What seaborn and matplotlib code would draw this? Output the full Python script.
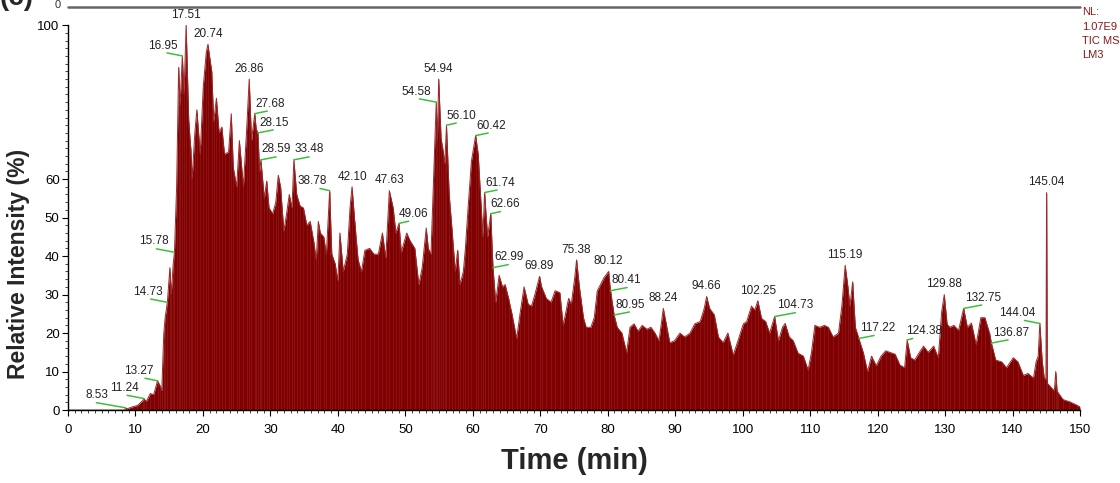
import numpy as np
import seaborn as sns
import matplotlib.pyplot as plt
from matplotlib.lines import Line2D
from matplotlib.ticker import MultipleLocator, FixedLocator

# 色谱数据 (TIC, 相对强度 %)
time = [
    0, 8.4, 8.53, 8.7, 9.5, 10.3, 11.1, 11.24, 11.6, 12.2,
    12.7, 13.27, 13.6, 13.9, 14.2, 14.4, 14.73, 15.1, 15.3, 15.6,
    15.78, 16.1, 16.4, 16.6, 16.95, 17.2, 17.51, 17.9, 18.2, 18.4,
    18.8, 19.1, 19.6, 20.05, 20.5, 20.74, 21.3, 21.6, 22.0, 22.4,
    22.8, 23.2, 23.8, 24.2, 24.5, 25.0, 25.4, 26.0, 26.5, 26.86,
    27.2, 27.68, 27.9, 28.15, 28.4, 28.59, 29.1, 29.45, 29.8, 30.34,
    30.8, 31.17, 31.5, 32.0, 32.4, 32.8, 33.2, 33.48, 33.9, 34.4,
    34.9, 35.4, 35.9, 36.4, 36.8, 37.1, 37.4, 37.9, 38.3, 38.78,
    39.1, 39.6, 40.0, 40.3, 40.8, 41.4, 41.8, 42.10, 42.5, 43.0,
    43.5, 44.0, 44.7, 45.35, 46.0, 46.6, 47.1, 47.63, 48.2, 48.6,
    49.06, 49.4, 50.2, 50.7, 51.4, 52.0, 52.5, 53.1, 53.4, 53.8,
    54.1, 54.3, 54.58, 54.75, 54.94, 55.3, 55.6, 55.85, 56.10, 56.5,
    56.9, 57.4, 57.75, 58.1, 58.6, 58.9, 59.3, 59.8, 60.42, 60.8,
    61.2, 61.5, 61.74, 62.2, 62.66, 62.99, 63.4, 63.9, 64.4, 64.8,
    65.3, 65.8, 66.5, 67.0, 67.6, 68.2, 68.7, 69.2, 69.89, 70.2,
    70.9, 71.6, 72.2, 72.9, 73.4, 74.2, 74.6, 75.1, 75.38, 75.8,
    76.4, 76.8, 77.5, 78.0, 78.45, 78.9, 79.45, 80.12, 80.41, 80.95,
    81.4, 82.1, 82.8, 83.3, 83.9, 84.5, 85.1, 85.8, 86.4, 87.0,
    87.6, 88.24, 88.6, 89.2, 89.9, 90.7, 91.4, 92.2, 92.9, 93.7,
    94.3, 94.66, 95.1, 95.8, 96.4, 97.1, 97.8, 98.6, 99.3, 100.1,
    100.6, 101.3, 101.8, 102.25, 102.8, 103.4, 104.0, 104.73, 105.3, 105.9,
    106.3, 106.9, 107.5, 108.2, 109.0, 109.7, 110.2, 110.7, 111.4, 112.1,
    112.7, 113.4, 114.2, 114.7, 115.19, 115.6, 115.9, 116.3, 116.7, 117.22,
    117.9, 118.5, 119.1, 119.8, 120.5, 121.2, 121.8, 122.6, 123.3, 124.0,
    124.38, 124.9, 125.5, 126.2, 126.8, 127.5, 128.3, 129.0, 129.5, 129.88,
    130.3, 130.7, 131.3, 132.0, 132.75, 133.3, 133.9, 134.6, 135.3, 135.9,
    136.6, 136.87, 137.5, 138.4, 139.1, 140.1, 140.8, 141.6, 142.3, 143.1,
    143.5, 143.8, 144.04, 144.4, 144.7, 144.95, 145.04, 145.15, 145.4, 145.8,
    146.2, 146.4, 146.6, 146.8, 147.5, 148.4, 149.5, 150,
]
intensity = [
    0, 0, 0.6, 0.3, 0.8, 1.2, 2.5, 3.0, 2.2, 4.3,
    4.0, 7.6, 6.5, 5.0, 20, 24, 28, 37, 30, 38,
    41, 58, 89, 79, 92, 82, 100, 75, 68, 60,
    72, 78, 66.5, 84, 93, 95, 88, 75, 81, 72,
    73.5, 66.5, 67, 77, 63, 58, 70, 58, 73.5, 86,
    70, 77, 73, 72, 62, 65, 55, 59.5, 52.5, 51,
    54, 61, 58, 46.5, 51, 56, 52.5, 65, 56, 53,
    52.5, 48, 49, 44, 39, 49, 46, 45, 40.5, 57,
    40.5, 38, 33.5, 46, 36, 40.5, 52.5, 58, 49, 39,
    36, 41.5, 42, 40.5, 40.5, 46, 39.5, 57, 52.5, 46,
    48.5, 41, 46, 44, 42, 32.6, 37, 47.3, 42, 40.5,
    56, 66.5, 80, 70, 86, 70.5, 67.4, 64, 74, 56,
    47.3, 36, 41.5, 32.6, 36, 42, 52.5, 64.7, 71.3, 66.5,
    54, 45, 56.5, 45, 51, 37, 28, 35, 32, 32.6,
    29, 25, 18.6, 25, 32, 27.5, 27, 30, 34.7, 32,
    29, 28, 31, 30.5, 22, 29, 27.5, 34.3, 39, 32,
    24, 21.5, 21.5, 24, 31, 32.5, 34.4, 36, 31, 24.7,
    21.5, 20, 15, 21.5, 22.4, 20.5, 22, 21, 21.5, 20,
    18, 26.4, 23, 17.5, 18, 20, 19, 20, 22.4, 23,
    26.4, 29.5, 26.4, 24.7, 19, 17.5, 20, 14.3, 18, 22.4,
    23, 27, 26, 28.4, 23.8, 23, 20, 24.3, 18, 21.5,
    22.5, 19, 18, 14.8, 14, 10.4, 15, 22, 21.5, 22,
    21.5, 19, 20, 27, 37.6, 32, 27, 33.3, 21.5, 18.6,
    14.8, 10, 14, 11.5, 14, 15.4, 15, 14.5, 11.7, 11,
    18.2, 13.6, 13, 15, 16.6, 15, 16.6, 13.6, 25.6, 30,
    22.3, 21.5, 22, 20.7, 26.4, 21.5, 22.6, 17, 24, 24,
    19.9, 17.4, 13, 12.5, 11, 13.6, 12.5, 9, 9.5, 8.3,
    12.6, 14, 22.5, 12.6, 8.3, 8, 56.5, 7, 6.5, 5.7,
    5, 10, 5, 4.4, 2.7, 2.2, 1.3, 0.8,
]
assert len(time) == len(intensity)

# 峰标注: 保留时间, 标注方式 (L/R 带绿色引线, C 直接在峰顶)
peak_labels = [8.53, 11.24, 13.27, 14.73, 15.78, 16.95, 17.51, 20.74, 26.86, 27.68,
               28.15, 28.59, 33.48, 38.78, 42.10, 47.63, 49.06, 54.58, 54.94, 56.10,
               60.42, 61.74, 62.66, 62.99, 69.89, 75.38, 80.12, 80.41, 80.95, 88.24,
               94.66, 102.25, 104.73, 115.19, 117.22, 124.38, 129.88, 132.75, 136.87,
               144.04, 145.04]
label_side = ["L", "L", "L", "L", "L", "L", "C", "C", "C", "R",
              "R", "R", "R", "L", "C", "C", "R", "L", "C", "R",
              "R", "R", "R", "R", "C", "C", "C", "R", "R", "C",
              "C", "C", "R", "C", "R", "R", "C", "R", "R",
              "L", "C"]
leader_len = [21, 12, 9, 12, 13, 11, 0, 0, 0, 9,
              11, 11, 11, 7, 0, 0, 7, 12, 0, 7,
              9, 9, 7, 11, 0, 0, 0, 12, 11, 0,
              0, 0, 15, 0, 11, 4, 0, 13, 12,
              11, 0]

TRACE = "#7f0000"
EDGE = "#9c2a2a"
GREEN = "#3cbf3c"
LABEL_FS = 8.5

sns.set_style("ticks")
plt.rcParams["font.family"] = ["Liberation Sans", "DejaVu Sans"]

fig = plt.figure(figsize=(11.2, 4.83), dpi=100)
ax = fig.add_axes([0.0607, 0.151, 0.9036, 0.797])

ax.fill_between(time, intensity, 0, color=TRACE, lw=0)
ax.vlines(time, 0, intensity, color="#a83a3a", lw=0.5, alpha=0.45)
sns.lineplot(x=time, y=intensity, ax=ax, color=EDGE, lw=0.7, estimator=None, sort=False)

ax.set_xlim(0, 150)
ax.set_ylim(0, 100)
ax.xaxis.set_major_locator(MultipleLocator(10))
ax.xaxis.set_minor_locator(MultipleLocator(1))
ax.yaxis.set_major_locator(FixedLocator([0, 10, 20, 30, 40, 50, 60, 100]))
ax.yaxis.set_minor_locator(MultipleLocator(2))
ax.tick_params(axis="both", which="major", direction="out", length=4, width=0.8,
               labelsize=9.5, colors="black")
ax.tick_params(axis="both", which="minor", direction="out", length=2.5, width=0.6)
ax.tick_params(axis="x", pad=6)
ax.tick_params(axis="y", pad=2)
for s in ["top", "right"]:
    ax.spines[s].set_visible(False)
for s in ["left", "bottom"]:
    ax.spines[s].set_linewidth(1.0)
    ax.spines[s].set_color("black")

ax.set_xlabel("Time (min)", fontsize=21, fontweight="bold", labelpad=8)
ax.set_ylabel("Relative Intensity (%)", fontsize=16.5, fontweight="bold")
ax.yaxis.set_label_coords(-0.0375, 0.38)

# 峰标注
for t, side, ln in zip(peak_labels, label_side, leader_len):
    y = float(np.interp(t, time, intensity))
    txt = f"{t:.2f}"
    if side == "C":
        ax.annotate(txt, xy=(t, y), xytext=(0, 3), textcoords="offset points",
                    ha="center", va="bottom", fontsize=LABEL_FS, color="#222222")
        continue
    sign = 1 if side == "R" else -1
    dy = 0.15 * ln + 0.5
    ax.annotate("", xy=(t, y), xytext=(sign * ln, dy), textcoords="offset points",
                arrowprops=dict(arrowstyle="-", color=GREEN, lw=1.1, shrinkA=0, shrinkB=0))
    if side == "R":
        ax.annotate(txt, xy=(t, y), xytext=(0.25 * ln - 2, dy + 1), textcoords="offset points",
                    ha="left", va="bottom", fontsize=LABEL_FS, color="#222222")
    else:
        tx = -0.3 * ln - max(0, ln - 13) * 0.8
        ax.annotate(txt, xy=(t, y), xytext=(tx, dy + 1), textcoords="offset points",
                    ha="right", va="bottom", fontsize=LABEL_FS, color="#222222")

# 右上角仪器信息
fig.text(0.9665, 0.985, "NL:\n1.07E9\nTIC MS\nLM3", ha="left", va="top",
         fontsize=8, color="#8b1a1a", linespacing=1.55)

# 上方子图的残留 (被裁切)
fig.add_artist(Line2D([0.0607, 0.9643], [0.985, 0.985], color="#666666", lw=1.8))
fig.text(0.054, 0.99, "0", ha="right", va="center", fontsize=8, color="#333333")
fig.text(0.0, 0.99, "(c)", ha="left", va="baseline", fontsize=20, fontweight="bold")

plt.savefig("out.png", dpi=100)
